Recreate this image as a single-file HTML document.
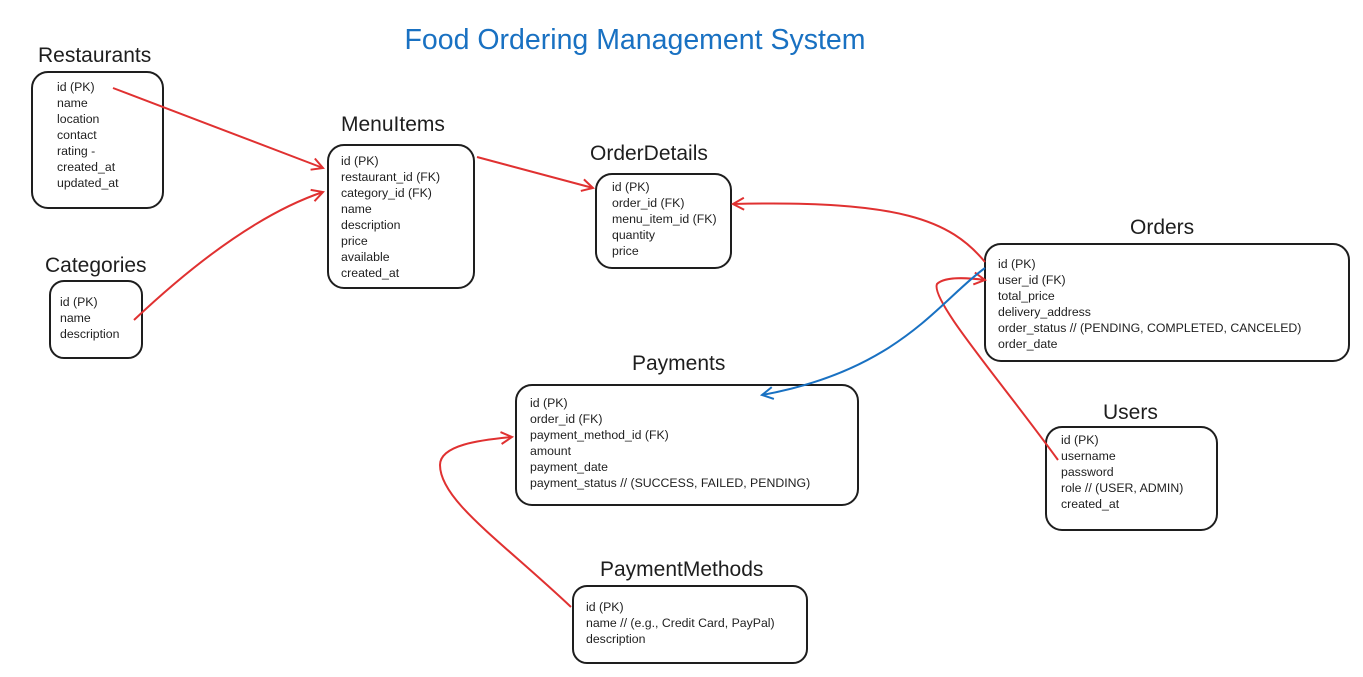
<!DOCTYPE html>
<html><head><meta charset="utf-8"><style>
body{margin:0;background:#fff;width:1363px;height:672px;overflow:hidden}
svg text{font-family:"Liberation Sans",sans-serif;fill:#1e1e1e}
.t{font-size:21px}
.f{font-size:12.3px}
</style></head><body>
<svg width="1363" height="672" viewBox="0 0 1363 672" xmlns="http://www.w3.org/2000/svg">
<defs>
<marker id="ar" markerWidth="14" markerHeight="14" refX="12" refY="7" orient="auto" markerUnits="userSpaceOnUse"><path d="M1,1 L12,7 L1,13" fill="none" stroke="#e03131" stroke-width="2"/></marker>
<marker id="ab" markerWidth="14" markerHeight="14" refX="12" refY="7" orient="auto" markerUnits="userSpaceOnUse"><path d="M1,1 L12,7 L1,13" fill="none" stroke="#1971c2" stroke-width="2"/></marker>
</defs>
<text x="635" y="49" text-anchor="middle" style="font-size:28.5px;fill:#1971c2">Food Ordering Management System</text>
<g fill="none" stroke="#1e1e1e" stroke-width="2">
<rect x="32" y="72" width="131" height="136" rx="16"/>
<rect x="328" y="145" width="146" height="143" rx="16"/>
<rect x="596" y="174" width="135" height="94" rx="16"/>
<rect x="50" y="281" width="92" height="77" rx="14"/>
<rect x="985" y="244" width="364" height="117" rx="16"/>
<rect x="516" y="385" width="342" height="120" rx="16"/>
<rect x="1046" y="427" width="171" height="103" rx="16"/>
<rect x="573" y="586" width="234" height="77" rx="14"/>
</g>
<text class="t" x="38" y="62">Restaurants</text>
<text class="t" x="341" y="131">MenuItems</text>
<text class="t" x="590" y="160">OrderDetails</text>
<text class="t" x="45" y="272">Categories</text>
<text class="t" x="1130" y="234">Orders</text>
<text class="t" x="632" y="370">Payments</text>
<text class="t" x="1103" y="419">Users</text>
<text class="t" x="600" y="576">PaymentMethods</text>
<g class="f">
<text x="57" y="91">id (PK)</text><text x="57" y="107">name</text><text x="57" y="123">location</text><text x="57" y="139">contact</text><text x="57" y="155">rating -</text><text x="57" y="171">created_at</text><text x="57" y="187">updated_at</text>
<text x="341" y="165">id (PK)</text><text x="341" y="181">restaurant_id (FK)</text><text x="341" y="197">category_id (FK)</text><text x="341" y="213">name</text><text x="341" y="229">description</text><text x="341" y="245">price</text><text x="341" y="261">available</text><text x="341" y="277">created_at</text>
<text x="612" y="191">id (PK)</text><text x="612" y="207">order_id (FK)</text><text x="612" y="223">menu_item_id (FK)</text><text x="612" y="239">quantity</text><text x="612" y="255">price</text>
<text x="60" y="306">id (PK)</text><text x="60" y="322">name</text><text x="60" y="338">description</text>
<text x="998" y="268">id (PK)</text><text x="998" y="284">user_id (FK)</text><text x="998" y="300">total_price</text><text x="998" y="316">delivery_address</text><text x="998" y="332">order_status  // (PENDING, COMPLETED, CANCELED)</text><text x="998" y="348">order_date</text>
<text x="530" y="407">id (PK)</text><text x="530" y="423">order_id (FK)</text><text x="530" y="439">payment_method_id (FK)</text><text x="530" y="455">amount</text><text x="530" y="471">payment_date</text><text x="530" y="487">payment_status // (SUCCESS, FAILED, PENDING)</text>
<text x="1061" y="444">id (PK)</text><text x="1061" y="460">username</text><text x="1061" y="476">password</text><text x="1061" y="492">role  // (USER, ADMIN)</text><text x="1061" y="508">created_at</text>
<text x="586" y="611">id (PK)</text><text x="586" y="627">name // (e.g., Credit Card, PayPal)</text><text x="586" y="643">description</text>
</g>
<g fill="none" stroke="#e03131" stroke-width="2">
<path d="M113,88 L323,168" marker-end="url(#ar)"/>
<path d="M134,320 Q240,220 323,192" marker-end="url(#ar)"/>
<path d="M477,157 L593,188" marker-end="url(#ar)"/>
<path d="M985,262 C950,220 900,200 733,204" marker-end="url(#ar)"/>
<path d="M1058,460 C1000,380 930,300 937,284 C945,276 970,278 985,280" marker-end="url(#ar)"/>
<path d="M571,607 C500,540 440,500 440,465 C440,445 480,440 512,437" marker-end="url(#ar)"/>
</g>
<path d="M985,268 C940,300 900,370 762,395" fill="none" stroke="#1971c2" stroke-width="2" marker-end="url(#ab)"/>
</svg>
</body></html>
